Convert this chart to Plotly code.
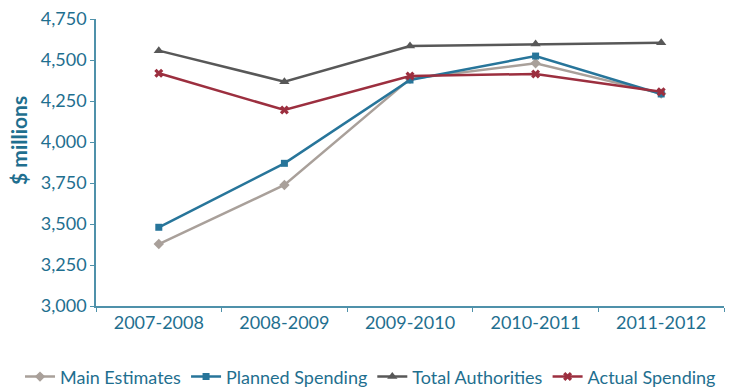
import plotly.graph_objects as go

categories = ["2007-2008", "2008-2009", "2009-2010", "2010-2011", "2011-2012"]
main_estimates = [3378, 3738, 4385, 4480, 4295]
planned_spending = [3480, 3870, 4378, 4524, 4293]
total_authorities = [4557, 4368, 4585, 4597, 4605]
actual_spending = [4419, 4195, 4402, 4415, 4307]

y_ticks = [3000, 3250, 3500, 3750, 4000, 4250, 4500, 4750]
y_title = "$ millions"

TEXT = "#1f6f8f"
AXIS = "#4f91aa"
FONT = "Lato"

series = [
    ("Main Estimates", main_estimates, "#a9a09a", "diamond", 8),
    ("Planned Spending", planned_spending, "#27759a", "square", 7),
    ("Total Authorities", total_authorities, "#585858", "triangle-up", 9),
    ("Actual Spending", actual_spending, "#9c2f3f", "x", 8),
]

fig = go.Figure()
for name, vals, color, sym, size in series:
    fig.add_trace(go.Scatter(
        x=categories, y=vals, name=name, mode="lines+markers",
        line=dict(color=color, width=2.5),
        marker=dict(symbol=sym, size=size, color=color),
    ))

fig.update_layout(
    width=755, height=391,
    margin=dict(l=96, r=31, t=19, b=85, autoexpand=False),
    paper_bgcolor="white", plot_bgcolor="white",
    font=dict(family=FONT, size=18, color=TEXT),
    showlegend=True,
    legend=dict(orientation="h", x=-0.121, xanchor="left", y=-0.247, yanchor="middle",
                font=dict(family=FONT, size=18, color=TEXT),
                itemwidth=30, tracegroupgap=0, bgcolor="rgba(0,0,0,0)"),
    annotations=[dict(
        text=f"<b>{y_title}</b>", textangle=-90, showarrow=False,
        xref="paper", yref="paper", x=-0.1226, y=0.575,
        xanchor="center", yanchor="middle",
        font=dict(family=FONT, size=21, color=TEXT),
    )],
)
fig.update_xaxes(
    type="category", range=[-0.5, 4.5],
    showline=True, linecolor=AXIS, linewidth=1.5,
    ticks="outside", ticklen=4, tickcolor=AXIS, tickson="boundaries",
    showgrid=False, zeroline=False,
    tickfont=dict(family=FONT, size=18, color=TEXT),
)
fig.update_yaxes(
    range=[3000, 4750], tickvals=y_ticks,
    ticktext=[f"{v:,}" for v in y_ticks],
    showline=True, linecolor=AXIS, linewidth=1.5,
    ticks="outside", ticklen=4, tickcolor=AXIS,
    showgrid=False, zeroline=False,
    tickfont=dict(family=FONT, size=18, color=TEXT),
)

fig.write_html("out.html")
